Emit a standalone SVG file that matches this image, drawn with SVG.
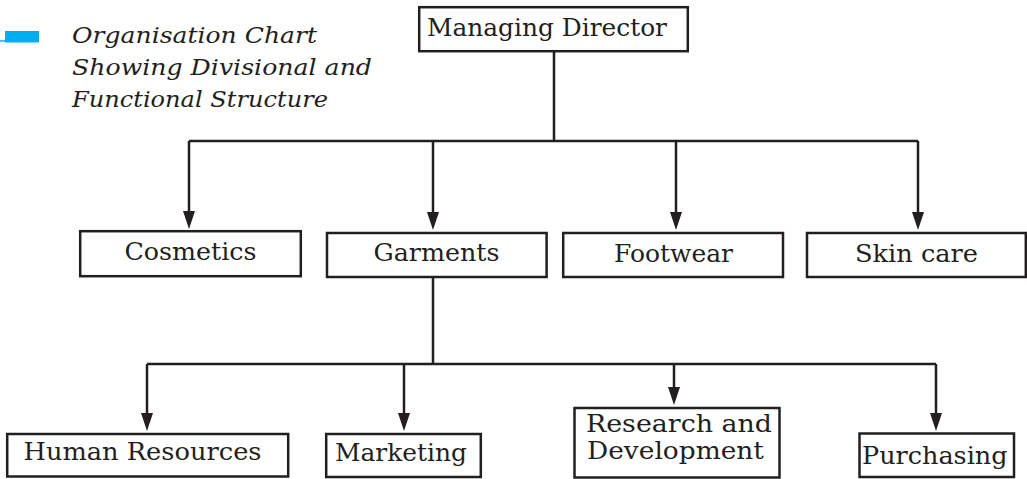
<svg xmlns="http://www.w3.org/2000/svg" width="1027" height="479" viewBox="0 0 1027 479">
<style>
.box{fill:#fff;stroke:#231f20;stroke-width:2.5}
.lbl{font-family:"DejaVu Serif","Liberation Serif",serif;font-size:24px;fill:#231f20}
.cap{font-family:"DejaVu Serif","Liberation Serif",serif;font-style:italic;font-size:22px;fill:#231f20}
.con{fill:none;stroke:#231f20;stroke-width:2.5}
.arr{fill:none;stroke:#231f20;stroke-width:2.5;marker-end:url(#ah)}
</style>
<defs>
<marker id="ah" viewBox="0 0 18 12" refX="10" refY="6" markerWidth="18" markerHeight="12" markerUnits="userSpaceOnUse" orient="auto">
<path d="M0,0 L18,6 L0,12 z" fill="#231f20"/>
</marker>
</defs>
<rect width="1027" height="479" fill="#fff"/>
<g id="caption">
<rect x="5" y="31" width="34" height="11.5" fill="#00aeef"/>
<line x1="0" y1="41" x2="6" y2="41" stroke="#00aeef" stroke-width="1.5"/>
<text class="cap" x="72" y="43" textLength="245" lengthAdjust="spacingAndGlyphs">Organisation Chart</text>
<text class="cap" x="72" y="75" textLength="300" lengthAdjust="spacingAndGlyphs">Showing Divisional and</text>
<text class="cap" x="72" y="107" textLength="256" lengthAdjust="spacingAndGlyphs">Functional Structure</text>
</g>
<g id="connectors">
<path class="con" d="M554,52 V141 M189,141 H918 M433,278 V364 M147,364 H936"/>
<line class="arr" x1="189" y1="141" x2="189" y2="221"/>
<line class="arr" x1="433" y1="141" x2="433" y2="222"/>
<line class="arr" x1="676" y1="141" x2="676" y2="222"/>
<line class="arr" x1="918" y1="141" x2="918" y2="222"/>
<line class="arr" x1="147" y1="364" x2="147" y2="423"/>
<line class="arr" x1="404" y1="364" x2="404" y2="423"/>
<line class="arr" x1="674" y1="364" x2="674" y2="397"/>
<line class="arr" x1="936" y1="364" x2="936" y2="423"/>
</g>
<g id="managing-director">
<rect class="box" x="419.2" y="7.2" width="268.6" height="44"/>
<text class="lbl" x="427" y="36" textLength="240" lengthAdjust="spacingAndGlyphs">Managing Director</text>
</g>
<g id="cosmetics">
<rect class="box" x="80.2" y="231.2" width="220.6" height="45"/>
<text class="lbl" x="124.5" y="260" textLength="132" lengthAdjust="spacingAndGlyphs">Cosmetics</text>
</g>
<g id="garments">
<rect class="box" x="327" y="233" width="219.6" height="44"/>
<text class="lbl" x="373.5" y="261" textLength="126" lengthAdjust="spacingAndGlyphs">Garments</text>
</g>
<g id="footwear">
<rect class="box" x="563.2" y="233" width="219.8" height="44"/>
<text class="lbl" x="614" y="261.5" textLength="119" lengthAdjust="spacingAndGlyphs">Footwear</text>
</g>
<g id="skin-care">
<rect class="box" x="807" y="233" width="218.8" height="44"/>
<text class="lbl" x="855" y="261.5" textLength="123" lengthAdjust="spacingAndGlyphs">Skin care</text>
</g>
<g id="human-resources">
<rect class="box" x="7.2" y="434" width="281" height="42.5"/>
<text class="lbl" x="23.5" y="459.5" textLength="238" lengthAdjust="spacingAndGlyphs">Human Resources</text>
</g>
<g id="marketing">
<rect class="box" x="326.2" y="434" width="154.6" height="43"/>
<text class="lbl" x="335" y="461" textLength="132" lengthAdjust="spacingAndGlyphs">Marketing</text>
</g>
<g id="research-and-development">
<rect class="box" x="574.5" y="408" width="205" height="69.5"/>
<text class="lbl" x="586" y="431.5" textLength="186" lengthAdjust="spacingAndGlyphs">Research and</text>
<text class="lbl" x="587" y="458.5" textLength="177" lengthAdjust="spacingAndGlyphs">Development</text>
</g>
<g id="purchasing">
<rect class="box" x="859.5" y="433.5" width="154.5" height="43.5"/>
<text class="lbl" x="862" y="464" textLength="145.5" lengthAdjust="spacingAndGlyphs">Purchasing</text>
</g>
</svg>
